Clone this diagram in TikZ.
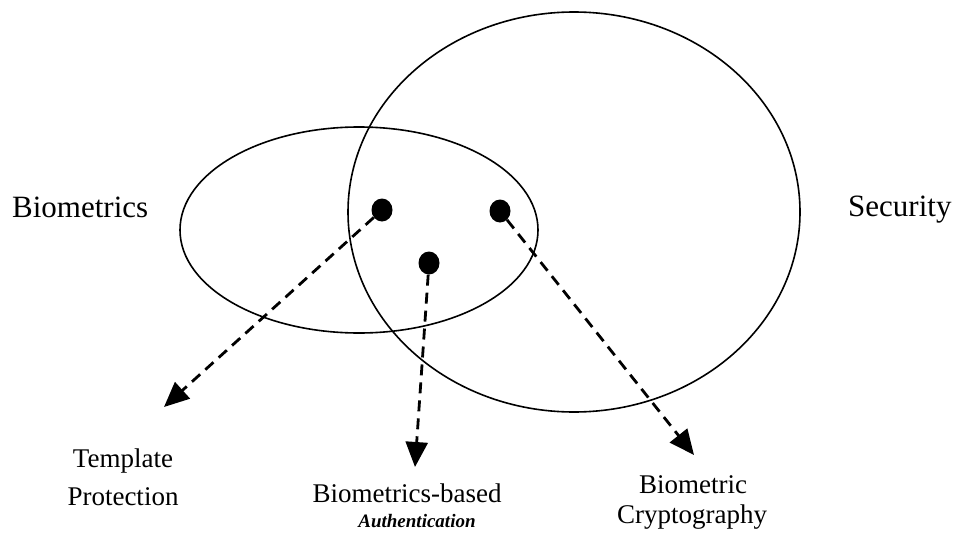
\documentclass[tikz,border=0pt]{standalone}
\usepackage{fontspec}
\setmainfont{Liberation Serif}
\usetikzlibrary{arrows.meta,shapes.geometric}
\begin{document}
\begin{tikzpicture}[x=1pt,y=-1pt,
  ring/.style={draw=black,line width=1.6pt},
  dot/.style={ellipse,fill=black,inner sep=0pt,minimum width=21pt,minimum height=23pt},
  link/.style={line width=2.8pt,dash pattern=on 11pt off 7pt,
    -{Triangle[length=25pt,width=22pt]}},
  bigtxt/.style={font=\fontsize{31}{36}\selectfont,inner sep=0pt},
  smalltxt/.style={font=\fontsize{27}{31}\selectfont,inner sep=0pt,anchor=base},
  subtxt/.style={font=\fontsize{19}{22}\selectfont\bfseries\itshape,inner sep=0pt,anchor=base}]
  \useasboundingbox[fill=white] (0,0) rectangle (953,535);

  % the two overlapping fields
  \draw[ring] (359,230) ellipse [x radius=179, y radius=103];
  \draw[ring] (574,212) ellipse [x radius=226, y radius=200];

  % field names
  \node[bigtxt,anchor=base west] (bio) at (12,217) {Biometrics};
  \node[bigtxt,anchor=base west] (sec) at (848,216) {Security};

  % points in the overlap
  \node[dot] (d1) at (382,210) {};
  \node[dot] (d2) at (500,211) {};
  \node[dot] (d3) at (429,263) {};

  % arrow end points
  \coordinate (t1) at (164,407);
  \coordinate (t2) at (415,467);
  \coordinate (t3) at (694,455);

  \draw[link] (d1) -- (t1);
  \draw[link] (d3) -- (t2);
  \draw[link] (d2) -- (t3);

  % labels
  \node[smalltxt] (tp1) at (123,467) {Template};
  \node[smalltxt] (tp2) at (123,505) {Protection};
  \node[smalltxt] (ba1) at (407,502) {Biometrics-based};
  \node[subtxt]   (ba2) at (417,527) {Authentication};
  \node[smalltxt] (bc1) at (693,493) {Biometric};
  \node[smalltxt] (bc2) at (692,523) {Cryptography};
\end{tikzpicture}
\end{document}
